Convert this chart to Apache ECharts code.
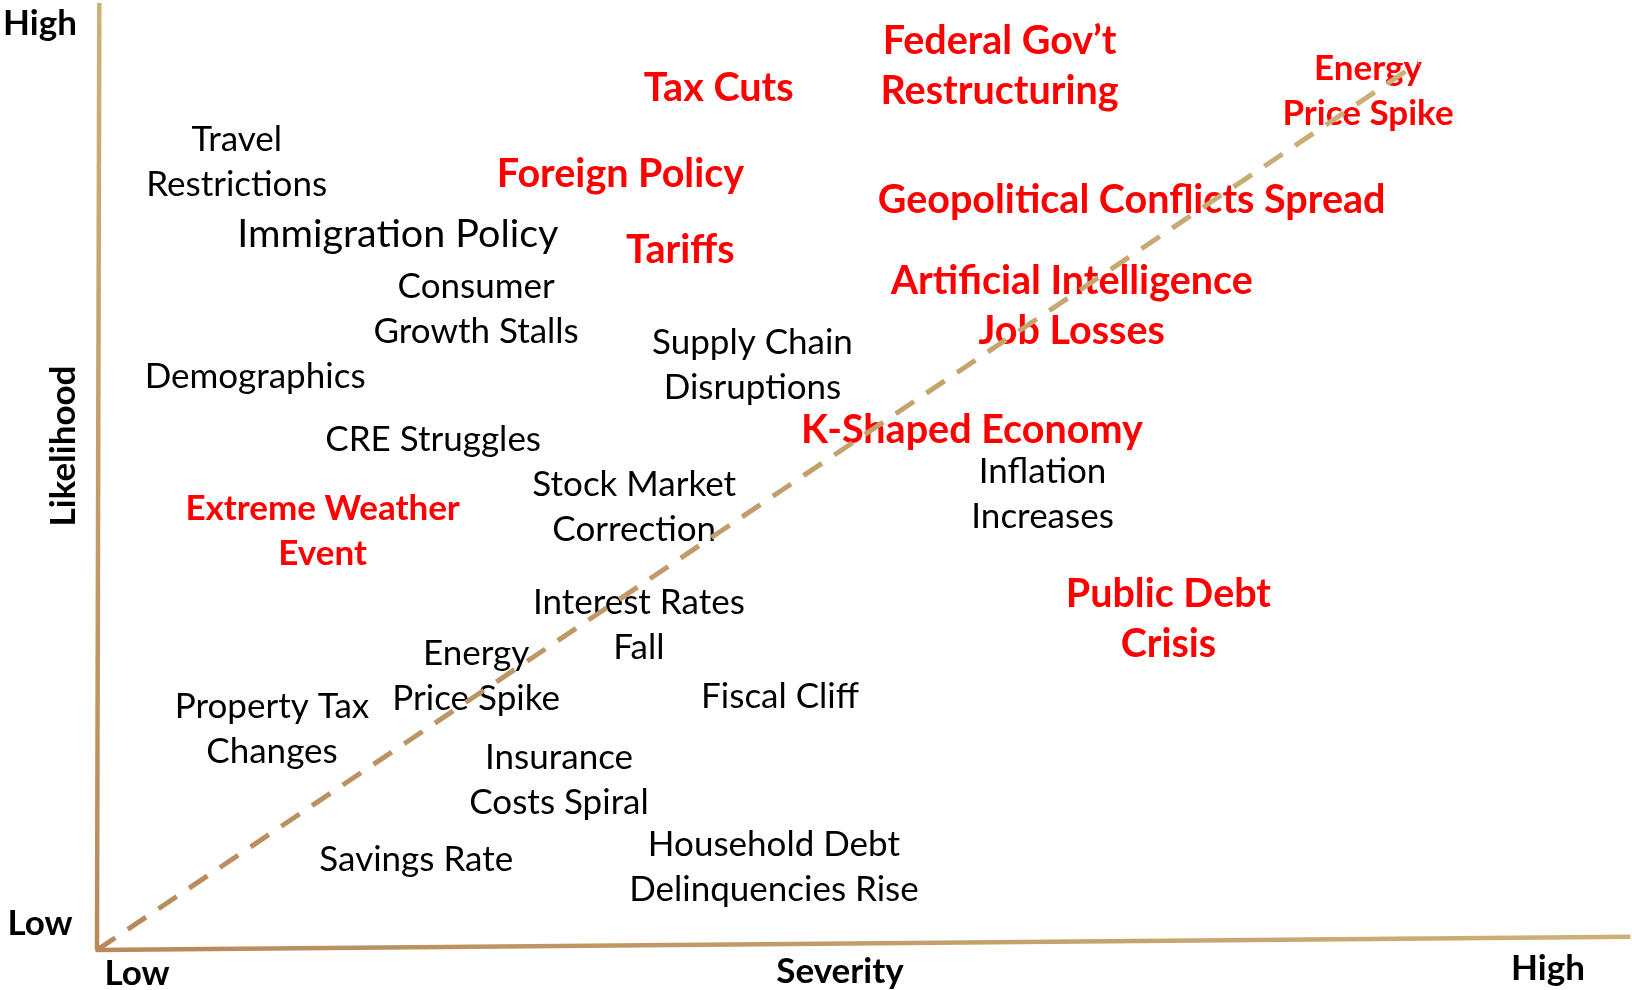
<!DOCTYPE html>
<html>
<head>
<meta charset="utf-8">
<title>Risk Matrix</title>
<script src="https://cdn.jsdelivr.net/npm/echarts@6/dist/echarts.min.js"></script>
<style>
    html, body { margin: 0; padding: 0; background: #fff; }
    #risk-matrix { width: 1632px; height: 990px; }
</style>
</head>
<body>
<div id="risk-matrix"></div>
<script>
// risks placed by severity (x) and likelihood (y), both on a 0-100 scale
const risks = [
    'Federal Gov\u2019t\nRestructuring', 'Tax Cuts', 'Energy\nPrice Spike', 'Foreign Policy',
    'Geopolitical Conflicts Spread', 'Tariffs', 'Artificial Intelligence\nJob Losses',
    'K-Shaped Economy', 'Extreme Weather\nEvent', 'Public Debt\nCrisis',
    'Travel\nRestrictions', 'Immigration Policy', 'Consumer\nGrowth Stalls', 'Demographics',
    'Supply Chain\nDisruptions', 'CRE Struggles', 'Stock Market\nCorrection',
    'Inflation\nIncreases', 'Interest Rates\nFall', 'Energy\nPrice Spike', 'Fiscal Cliff',
    'Property Tax\nChanges', 'Insurance\nCosts Spiral', 'Savings Rate',
    'Household Debt\nDelinquencies Rise'
];
const severity = [
    58.8, 40.5, 82.8, 34.1, 67.4, 38.0, 63.5, 57.0, 14.7, 69.8,
    9.1, 19.6, 24.7, 10.3, 42.7, 21.9, 35.0, 61.6, 35.3, 24.7, 44.5,
    11.4, 30.1, 20.8, 44.1
];
const likelihood = [
    93.3, 91.0, 90.7, 81.9, 79.2, 73.9, 68.0, 54.9, 44.2, 34.9,
    83.2, 75.6, 67.7, 60.5, 61.7, 53.9, 46.8, 48.1, 34.3, 28.9, 26.7,
    23.3, 17.9, 9.5, 8.7
];
// 1 = flagged risk (red), 0 = other
const flagged = [1, 1, 1, 1, 1, 1, 1, 1, 1, 1, 0, 0, 0, 0, 0, 0, 0, 0, 0, 0, 0, 0, 0, 0, 0];

// hand drawn axes and the diagonal guide
const xAxisLine = [[-0.1, 0], [99.9, 1.4]];
const yAxisLine = [[0, 0], [0.15, 100]];
const diagonal = [[0, 0], [86.1, 93.7]];

const FONT = 'Lato, "Open Sans", sans-serif';

// font size and line spacing for each label
function labelSize(name, isRed) {
    if (isRed) {
        return (name === 'Energy\nPrice Spike' || name === 'Extreme Weather\nEvent') ? [35, 45] : [39.5, 50];
    }
    return name === 'Immigration Policy' ? [39.5, 50] : [35, 45];
}

function gold(dir) {
    return new echarts.graphic.LinearGradient(dir[0], dir[1], dir[2], dir[3], [
        { offset: 0, color: '#b88a5b' },
        { offset: 1, color: '#ccb179' }
    ]);
}

function axisText(text, x, y, rotation) {
    return {
        type: 'text',
        x: x,
        y: y,
        rotation: rotation || 0,
        style: {
            text: text,
            fill: '#000',
            fontFamily: FONT,
            fontWeight: 'bold',
            fontSize: 35,
            align: 'center',
            verticalAlign: 'middle'
        }
    };
}

const points = risks.map(function (name, i) {
    const isRed = flagged[i] === 1;
    const size = labelSize(name, isRed);
    return {
        name: name,
        value: [severity[i], likelihood[i]],
        label: {
            color: isRed ? '#ff0000' : '#000000',
            fontWeight: isRed ? 'bold' : 'normal',
            fontSize: size[0],
            lineHeight: size[1]
        }
    };
});

const chart = echarts.init(document.getElementById('risk-matrix'));
chart.setOption({
    animation: false,
    grid: { left: 97, right: 0, top: 3, bottom: 40 },
    xAxis: { type: 'value', min: 0, max: 100, show: false },
    yAxis: { type: 'value', min: 0, max: 100, show: false },
    graphic: [
        axisText('High', 40, 24),
        axisText('Low', 40, 924),
        axisText('Likelihood', 64, 446, Math.PI / 2),
        axisText('Low', 137, 974),
        axisText('Severity', 840, 972),
        axisText('High', 1548, 969)
    ],
    series: [
        {
            type: 'line',
            data: diagonal,
            symbol: 'none',
            clip: false,
            silent: true,
            lineStyle: { width: 5, type: [22, 15], color: gold([0, 1, 1, 0]) }
        },
        {
            type: 'line',
            data: xAxisLine,
            symbol: 'none',
            clip: false,
            silent: true,
            lineStyle: { width: 4.5, color: gold([0, 0, 1, 0]) }
        },
        {
            type: 'line',
            data: yAxisLine,
            symbol: 'none',
            clip: false,
            silent: true,
            lineStyle: { width: 4.5, color: gold([0, 1, 0, 0]) }
        },
        {
            type: 'scatter',
            symbolSize: 0,
            silent: true,
            itemStyle: { opacity: 1 },
            data: points,
            label: {
                show: true,
                position: 'inside',
                formatter: '{b}',
                fontFamily: FONT,
                align: 'center',
                verticalAlign: 'middle'
            }
        }
    ]
});
</script>
</body>
</html>
